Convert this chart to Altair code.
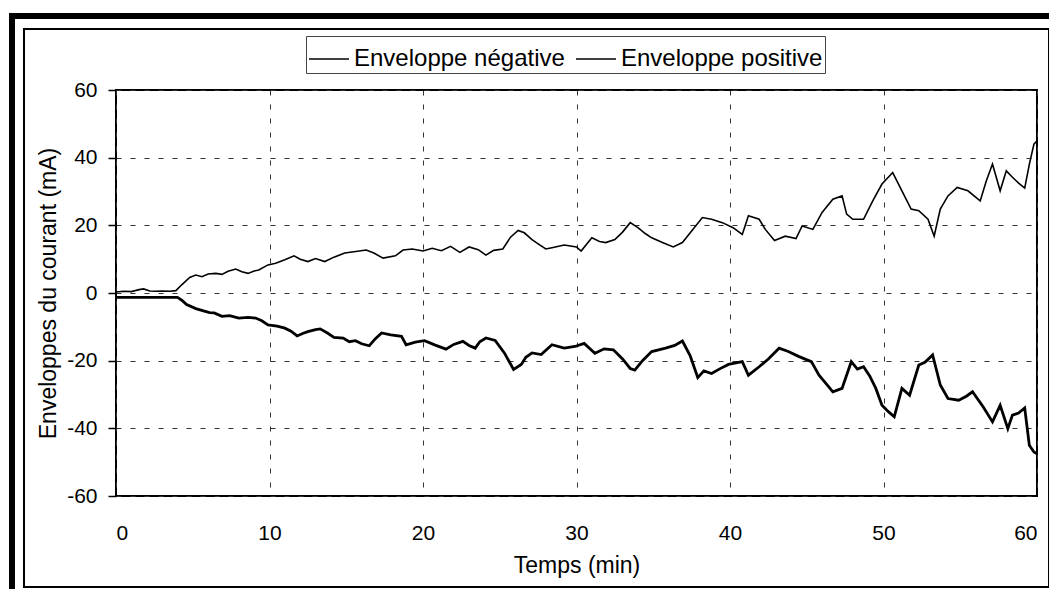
import altair as alt
import pandas as pd

# ---- data ----
t_pos = [0, 0.5, 1.0, 1.5, 1.8, 2.2, 2.6, 3.0, 3.5, 3.9, 4.3, 4.8, 5.2, 5.6, 6.0, 6.5, 6.9, 7.3, 7.8, 8.2,
         8.6, 9.0, 9.3, 9.9, 10.4, 11.0, 11.6, 12.0, 12.5, 13.0, 13.6, 14.2, 14.9, 15.5, 16.3, 16.8, 17.4, 18.2,
         18.7, 19.3, 20.0, 20.6, 21.2, 21.8, 22.4, 23.0, 23.6, 24.1, 24.6, 25.2, 25.7, 26.2, 26.6, 27.1, 27.6,
         28.0, 28.4, 29.2, 30.0, 30.3, 31.0, 31.5, 31.9, 32.5, 33.0, 33.5, 34.0, 34.5, 34.9, 35.6, 36.3, 36.9,
         37.5, 38.2, 38.8, 39.5, 40.2, 40.8, 41.2, 41.9, 42.3, 42.9, 43.6, 44.3, 44.7, 45.4, 46.0, 46.7, 47.3,
         47.6, 48.0, 48.7, 49.3, 49.9, 50.6, 51.2, 51.8, 52.3, 52.9, 53.3, 53.7, 54.2, 54.8, 55.5, 56.3, 56.7,
         57.1, 57.6, 58.0, 58.4, 58.8, 59.2, 59.5, 59.8, 60.0]
v_pos = [0.3, 0.5, 0.4, 1.0, 1.2, 0.6, 0.5, 0.6, 0.5, 0.7, 2.5, 4.6, 5.3, 4.8, 5.6, 5.8, 5.5, 6.4, 7.1, 6.3,
         5.8, 6.5, 6.8, 8.3, 8.8, 9.8, 11.0, 10.0, 9.3, 10.2, 9.3, 10.6, 11.8, 12.2, 12.7, 11.8, 10.3, 11.0,
         12.7, 13.0, 12.4, 13.2, 12.5, 13.8, 12.0, 13.6, 12.8, 11.2, 12.6, 13.0, 16.5, 18.5, 17.8, 15.8, 14.2,
         13.0, 13.4, 14.2, 13.6, 12.4, 16.3, 15.2, 14.9, 15.8, 18.0, 20.8, 19.3, 17.5, 16.3, 14.9, 13.6, 14.9,
         18.3, 22.3, 21.8, 20.8, 19.3, 17.3, 22.8, 21.8, 18.8, 15.5, 16.8, 16.1, 19.8, 18.8, 23.8, 27.7, 28.7,
         23.3, 21.8, 21.8, 27.2, 32.2, 35.6, 30.2, 24.8, 24.3, 21.8, 16.8, 24.8, 28.7, 31.2, 30.2, 27.2, 33.2,
         38.1, 30.2, 36.1, 34.2, 32.5, 31.0, 38.0, 44.0, 45.0]

t_neg = [0, 4.0, 4.3, 4.6, 5.2, 5.7, 6.1, 6.4, 6.9, 7.4, 8.0, 8.6, 9.1, 9.5, 9.9, 10.5, 11.0, 11.4, 11.8, 12.2,
         12.5, 13.0, 13.3, 13.8, 14.2, 14.8, 15.2, 15.6, 16.0, 16.5, 16.9, 17.3, 17.9, 18.6, 18.9, 19.5, 20.1,
         20.8, 21.5, 22.0, 22.6, 23.0, 23.4, 23.7, 24.1, 24.7, 25.3, 25.9, 26.4, 26.7, 27.1, 27.7, 28.4, 29.2,
         29.9, 30.5, 31.2, 31.8, 32.4, 33.0, 33.5, 33.8, 34.3, 34.9, 35.8, 36.4, 36.9, 37.4, 37.9, 38.3, 38.8,
         39.3, 39.9, 40.8, 41.2, 41.9, 42.5, 43.2, 43.8, 44.5, 45.3, 45.8, 46.3, 46.7, 47.3, 47.9, 48.3, 48.7,
         49.1, 49.5, 49.9, 50.3, 50.7, 51.2, 51.7, 52.3, 52.7, 53.2, 53.7, 54.2, 54.9, 55.4, 55.8, 56.5, 57.1,
         57.6, 58.1, 58.4, 58.8, 59.2, 59.5, 59.8, 60.0]
v_neg = [-1.3, -1.3, -2.2, -3.4, -4.6, -5.3, -5.8, -5.9, -6.9, -6.7, -7.4, -7.2, -7.4, -8.2, -9.4, -9.8, -10.4,
         -11.3, -12.7, -11.9, -11.4, -10.8, -10.6, -11.9, -13.1, -13.3, -14.4, -14.1, -15.0, -15.6, -13.5, -11.8,
         -12.4, -12.8, -15.3, -14.5, -14.1, -15.4, -16.6, -15.2, -14.3, -15.5, -16.3, -14.4, -13.3, -14.0, -17.7,
         -22.6, -21.1, -19.0, -17.7, -18.2, -15.3, -16.3, -15.8, -14.9, -17.8, -16.5, -16.8, -19.5, -22.3, -22.8,
         -20.0, -17.3, -16.3, -15.5, -14.2, -18.5, -25.0, -23.0, -23.8, -22.5, -21.1, -20.3, -24.3, -21.8, -19.5,
         -16.3, -17.3, -18.8, -20.3, -24.3, -27.0, -29.2, -28.2, -20.3, -22.5, -21.8, -24.5, -28.2, -33.2, -35.0,
         -36.6, -28.2, -30.2, -21.3, -20.5, -18.3, -27.2, -31.2, -31.7, -30.5, -29.2, -33.7, -38.1, -33.2, -40.1,
         -36.1, -35.5, -34.0, -45.0, -47.0, -47.5]

series_names = ["Enveloppe négative", "Enveloppe positive"]
x_ticks = [0, 10, 20, 30, 40, 50, 60]
y_ticks = [-60, -40, -20, 0, 20, 40, 60]

df = pd.concat([
    pd.DataFrame({"t": t_neg, "v": v_neg, "serie": series_names[0], "ord": range(len(t_neg))}),
    pd.DataFrame({"t": t_pos, "v": v_pos, "serie": series_names[1], "ord": range(len(t_pos))}),
])

FONT = "Liberation Sans"
W, H = 921, 406

x_enc = alt.X("t:Q", scale=alt.Scale(domain=[0, 60], nice=False),
              axis=alt.Axis(values=x_ticks, title="Temps (min)", grid=True, ticks=False, tickSize=0,
                            domain=False, labelPadding=37, labelBaseline="middle",
                            labelExpr="datum.value",
                            titleX=W / 2, titleY=69, titleBaseline="middle"))
y_enc = alt.Y("v:Q", scale=alt.Scale(domain=[-60, 60], nice=False),
              axis=alt.Axis(values=y_ticks, title="Enveloppes du courant (mA)", grid=True, ticks=True,
                            tickSize=8, domain=False, labelPadding=11, labelExpr="datum.value",
                            titleX=-68, titleY=H / 2, titleAngle=-90, titleBaseline="middle"))
color_enc = alt.Color("serie:N", scale=alt.Scale(domain=series_names, range=["black", "black"]),
                      legend=alt.Legend(title=None, orient="none", legendX=190, legendY=-54,
                                        direction="horizontal", strokeColor="#444", fillColor="white",
                                        padding=2, columnPadding=8, labelOffset=4, symbolSize=1600,
                                        symbolStrokeWidth=1.5, symbolType="stroke", labelLimit=400,
                                        labelFont=FONT, labelFontSize=24, labelColor="black"))

base = alt.Chart(df).encode(x=x_enc, y=y_enc, color=color_enc, order="ord:Q")
pos_line = base.transform_filter(alt.datum.serie == series_names[1]).mark_line(strokeWidth=1.6)
neg_line = base.transform_filter(alt.datum.serie == series_names[0]).mark_line(strokeWidth=2.8)

one = alt.Data(values=[{"a": 1}])
inner_frame = alt.Chart(one).mark_rect(filled=False, stroke="black", strokeWidth=2).encode(
    x=alt.value(-92), x2=alt.value(933), y=alt.value(-61), y2=alt.value(497))
outer_frame = alt.Chart(one).mark_rect(filled=False, stroke="black", strokeWidth=6).encode(
    x=alt.value(-104), x2=alt.value(960), y=alt.value(-74), y2=alt.value(503))

chart = alt.layer(outer_frame, inner_frame, pos_line, neg_line).properties(
    width=W, height=H,
    autosize=alt.AutoSizeParams(type="none"),
    padding={"left": 108, "top": 82, "right": 12, "bottom": 93},
    background="white",
).configure_view(stroke="black", strokeWidth=2).configure_axis(
    labelFont=FONT, labelFontSize=21, labelColor="black",
    titleFont=FONT, titleFontSize=23, titleColor="black", titleFontWeight="normal",
    gridColor="#333", gridDash=[5, 9], gridWidth=1, tickColor="black", tickWidth=1.5,
)

chart.save("out.html", embed_options={"renderer": "svg", "actions": False})
